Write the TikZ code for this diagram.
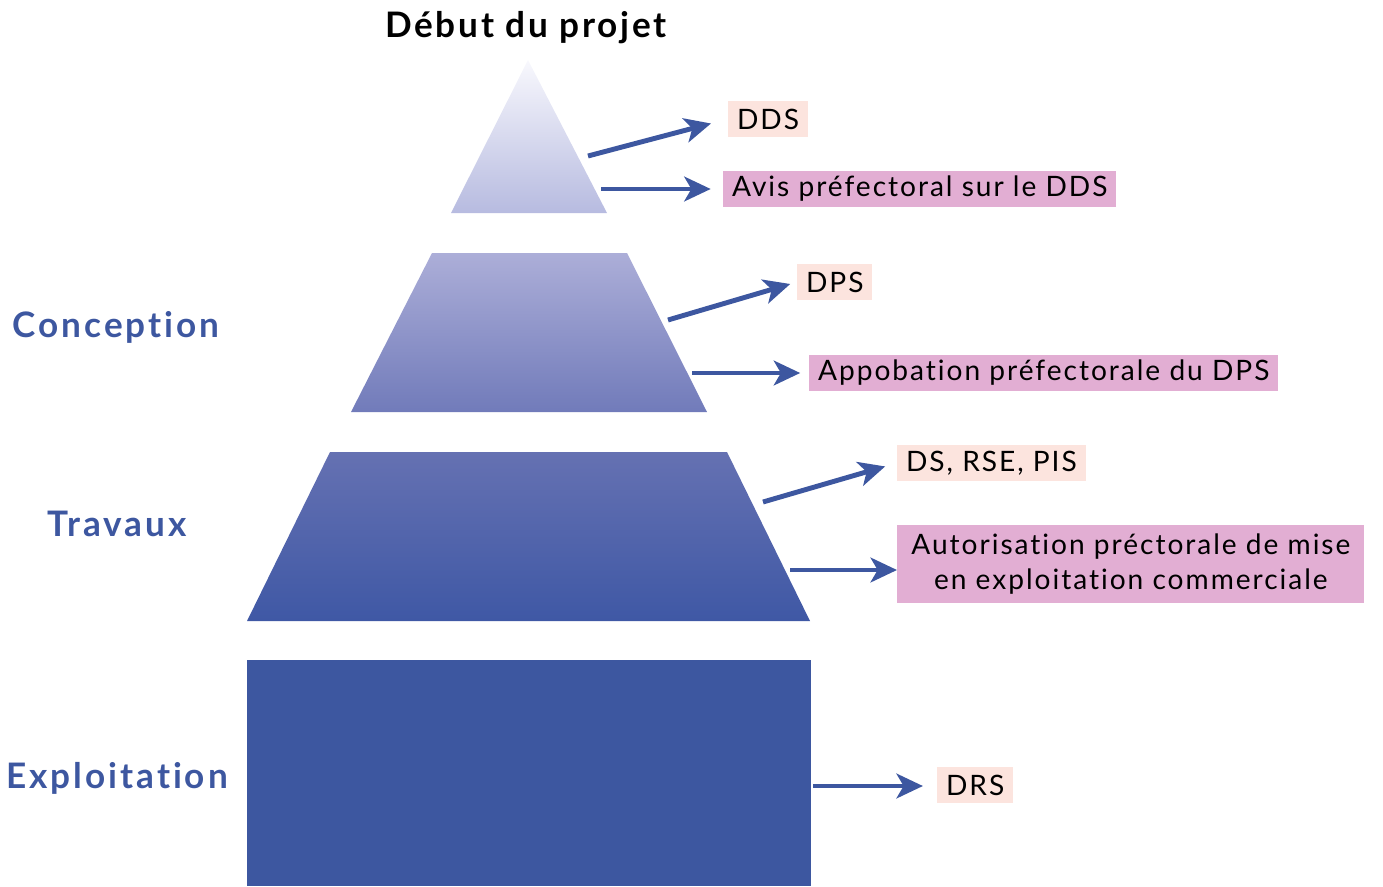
\documentclass[tikz,border=0pt]{standalone}
\usepackage{fontspec}
\setmainfont[LetterSpace=7,Ligatures={NoCommon}]{Lato}
\usetikzlibrary{arrows.meta}
\definecolor{pyrblue}{RGB}{61,87,160}
\definecolor{docpink}{RGB}{252,228,222}
\definecolor{avismauve}{RGB}{226,174,211}
\definecolor{lvlA}{RGB}{248,248,253}
\definecolor{lvlB}{RGB}{183,187,224}
\definecolor{lvlC}{RGB}{172,174,216}
\definecolor{lvlD}{RGB}{113,123,186}
\definecolor{lvlE}{RGB}{101,113,178}
\definecolor{lvlF}{RGB}{63,88,165}

\begin{document}
\begin{tikzpicture}[x=.02cm,y=-.02cm,>={Stealth[length=15pt,width=14pt,inset=4pt]},
  doc/.style={fill=docpink,inner xsep=5pt,inner ysep=0pt,minimum height=.72cm,
    anchor=west,font=\fontsize{16}{20}\selectfont},
  avis/.style={doc,fill=avismauve},
  phase/.style={text=pyrblue,font=\fontsize{20}{24}\selectfont\bfseries\addfontfeatures{LetterSpace=8.5}},
  link/.style={draw=pyrblue,line width=2.8pt,->}]
\useasboundingbox (0,0) rectangle (1383,886);

% the four levels
\shade[top color=lvlA,bottom color=lvlB] (451,213)--(528,60)--(607,213)--cycle;
\shade[top color=lvlC,bottom color=lvlD] (351,412)--(432,253)--(627,253)--(707,412)--cycle;
\shade[top color=lvlE,bottom color=lvlF] (247,621)--(330,452)--(727,452)--(810,621)--cycle;
\fill[pyrblue] (247,660) rectangle (811,886);

\node[font=\fontsize{20}{24}\selectfont\bfseries\addfontfeatures{LetterSpace=8}] (debut) at (526,28) {Début du projet};
\node[phase] (conception) at (116,327) {Conception};
\node[phase] (travaux) at (117,524) {Travaux};
\node[phase] (exploitation) at (117,778) {Exploitation};

% documents
\node[doc] (dds) at (728,119) {DDS};
\node[avis] (avisdds) at (723,189) {Avis préfectoral sur le DDS};
\node[doc] (dps) at (797,282) {DPS};
\node[avis] (appdps) at (809,373) {Appobation préfectorale du DPS};
\node[doc] (ds) at (897,463) {DS, RSE, PIS};
\node[avis,align=center,minimum height=1.56cm,inner xsep=8pt] (autor) at (897,564)
  {Autorisation préctorale de mise\\en exploitation commerciale};
\node[doc] (drs) at (937,785) {DRS};

% arrow starts on the levels
\coordinate (s1) at (588,156);
\coordinate (s2) at (601,189);
\coordinate (s3) at (668,320);
\coordinate (s4) at (692,373);
\coordinate (s5) at (763,502);
\coordinate (s6) at (790,570);
\coordinate (s7) at (813,786);

\draw[link,shorten >=10pt] (s1)--(dds.west);
\draw[link,shorten >=7pt] (s2)--(avisdds.west);
\draw[link,shorten >=4pt] (s3)--(dps.west);
\draw[link,shorten >=5pt] (s4)--(appdps.west);
\draw[link,shorten >=7pt] (s5)--(ds.west);
\draw[link] (s6)--(autor.west |- s6);
\draw[link,shorten >=8pt] (s7)--(drs.west |- s7);
\end{tikzpicture}
\end{document}
